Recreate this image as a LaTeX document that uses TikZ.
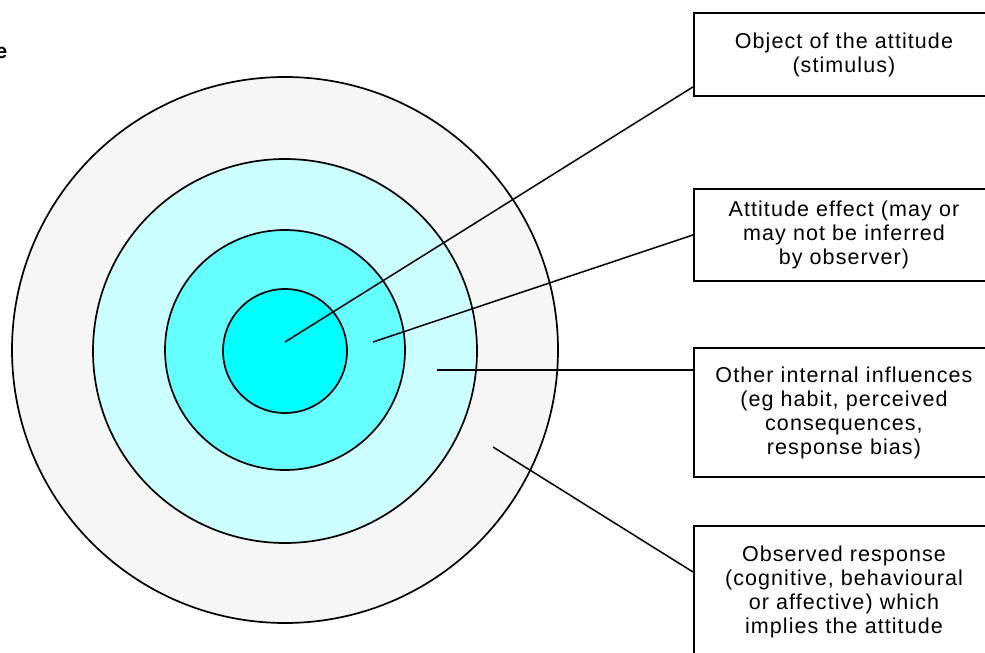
\documentclass[tikz,border=0pt]{standalone}
\usepackage{fontspec}
\setmainfont{Liberation Sans}
\newfontfamily\boxfont[LetterSpace=5]{Liberation Sans}
\usepackage{tikz}
\usetikzlibrary{positioning}

\definecolor{ringOut}{HTML}{F6F6F6}
\definecolor{ringTwo}{HTML}{CCFFFF}
\definecolor{ringThree}{HTML}{66FFFF}
\definecolor{ringCore}{HTML}{00FFFF}

\begin{document}
\begin{tikzpicture}[
  x=1pt, y=-1pt,
  % rings of the target
  ring/.style={draw=black, line width=1.7pt, circle, inner sep=0pt},
  % pointer lines
  lead/.style={draw=black, line width=1.5pt},
  % label boxes
  lbox/.style={draw=black, line width=1.9pt, fill=white, anchor=north west,
               minimum width=300pt, text width=290pt, align=center,
               font=\boxfont\fontsize{21.5}{24}\selectfont, inner sep=0pt},
]
\clip (0,0) rectangle (985,653);

% ── Cropped caption fragment ───────────────────────────────
\node[anchor=base east, inner sep=0pt, font=\fontsize{21}{24}\selectfont\bfseries]
  (frag) at (7.5,58) {e};

% ── Concentric rings ────────────────────────────────────────
\node[ring, fill=ringOut,   minimum size=546pt] (cOut)   at (285,350) {};
\node[ring, fill=ringTwo,   minimum size=384pt] (cTwo)   at (285,351) {};
\node[ring, fill=ringThree, minimum size=240pt] (cThree) at (285,350) {};
\node[ring, fill=ringCore,  minimum size=124pt] (cCore)  at (285,351) {};

% ── Label boxes ─────────────────────────────────────────────
\node[lbox, minimum height=83pt]  (bObj) at (693,12)
  {Object of the attitude\\(stimulus)};
\node[lbox, minimum height=92pt]  (bEff) at (693,188)
  {Attitude effect (may or\\may not be inferred\\by observer)};
\node[lbox, minimum height=129pt] (bInt) at (693,347)
  {Other internal influences\\(eg habit, perceived\\consequences,\\response bias)};
\node[lbox, minimum height=132pt] (bObs) at (693,525)
  {Observed response\\(cognitive, behavioural\\or affective) which\\implies the attitude};

% ── Pointer lines ───────────────────────────────────────────
\coordinate (pObj) at (285,342);
\coordinate (pEff) at (373,342);
\coordinate (pInt) at (437,370);
\coordinate (pObs) at (493,447);

\draw[lead] (pObj) -- ([yshift=10pt]bObj.south west);
\draw[lead] (pEff) -- (bEff.west);
\draw[lead] (pInt) -- ([yshift=-23pt]bInt.north west);
\draw[lead] (pObs) -- ([yshift=-47pt]bObs.north west);

\end{tikzpicture}
\end{document}
